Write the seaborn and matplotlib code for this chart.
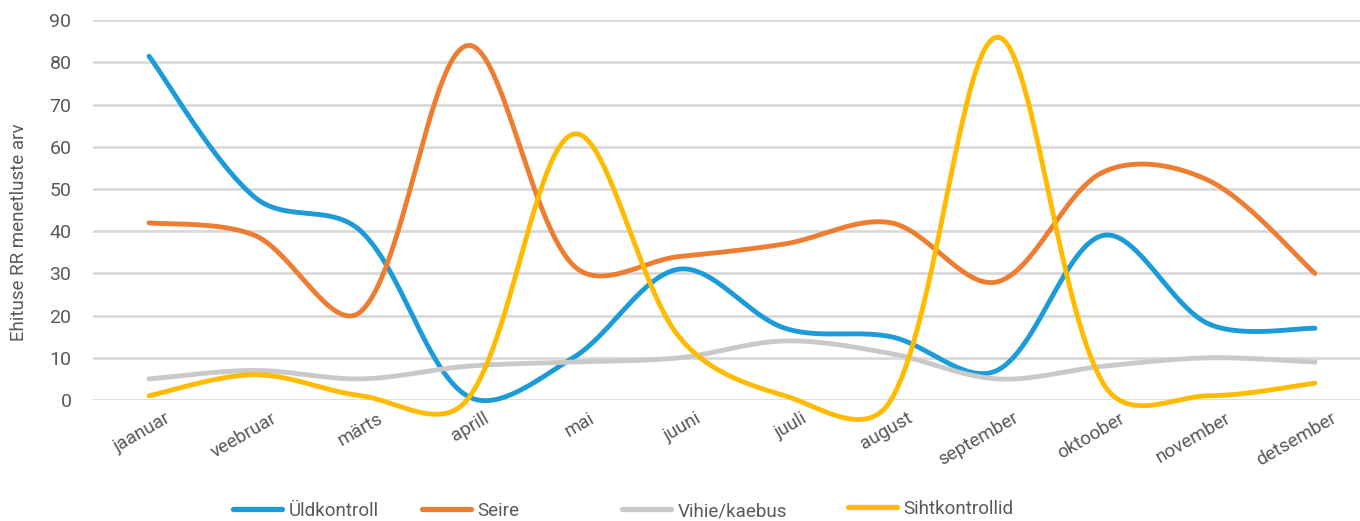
import numpy as np
import pandas as pd
import matplotlib
matplotlib.use("Agg")
import matplotlib.pyplot as plt
import matplotlib.transforms as mtransforms
from matplotlib.lines import Line2D
import seaborn as sns

# --- data -------------------------------------------------------------
months = ["jaanuar", "veebruar", "märts", "aprill", "mai", "juuni",
          "juuli", "august", "september", "oktoober", "november", "detsember"]

series_names = ["Üldkontroll", "Seire", "Vihie/kaebus", "Sihtkontrollid"]

uldkontroll = [81.5, 48, 40, 1, 10, 31, 17, 15, 7, 39, 18, 17]
seire = [42, 39, 21, 84, 32, 34, 37, 42, 28, 54, 52, 30]
vihje_kaebus = [5, 7, 5, 8, 9, 10, 14, 11, 5, 8, 10, 9]
sihtkontrollid = [1, 6, 1, 0, 63, 15, 1, 0, 86, 4, 1, 4]

y_ticks = [0, 10, 20, 30, 40, 50, 60, 70, 80, 90]
y_label = "Ehituse RR menetluste arv"

colors = ["#1b9bd7", "#ed7d31", "#c8c9c8", "#ffbb00"]

# screen scale of one category step and one y unit (used for chord lengths)
X_SCALE, Y_SCALE = 106.0, 4.22
CHORD_WEIGHT = 0.55  # mix between uniform and chord-sized handles


def smooth(values, steps=50):
    """Smoothed line through every point: cubic Bezier segments whose
    handles follow the neighbour direction, partly sized by chord length."""
    x = np.arange(len(values), dtype=float)
    y = np.asarray(values, dtype=float)
    pts = np.column_stack([x, y])
    n = len(pts)
    scr = pts * np.array([X_SCALE, Y_SCALE])
    d = np.linalg.norm(np.diff(scr, axis=0), axis=1)  # chord lengths
    out_h = np.zeros_like(pts)  # handle leaving point i
    in_h = np.zeros_like(pts)   # handle arriving at point i
    for i in range(n):
        if i == 0:
            out_h[i] = (pts[1] - pts[0]) / 6.0
        elif i == n - 1:
            in_h[i] = (pts[i] - pts[i - 1]) / 6.0
        else:
            tan = pts[i + 1] - pts[i - 1]
            tot = d[i - 1] + d[i]
            f_out = CHORD_WEIGHT * 2 * d[i] / tot + (1 - CHORD_WEIGHT)
            f_in = CHORD_WEIGHT * 2 * d[i - 1] / tot + (1 - CHORD_WEIGHT)
            out_h[i] = tan / 6.0 * f_out
            in_h[i] = tan / 6.0 * f_in
    t = np.linspace(0, 1, steps)[:, None]
    out = []
    for i in range(n - 1):
        p1, p2 = pts[i], pts[i + 1]
        b1 = p1 + out_h[i]
        b2 = p2 - in_h[i + 1]
        seg = ((1 - t) ** 3) * p1 + 3 * ((1 - t) ** 2) * t * b1 \
            + 3 * (1 - t) * t ** 2 * b2 + t ** 3 * p2
        out.append(seg if i == 0 else seg[1:])
    curve = np.vstack(out)
    return curve[:, 0], curve[:, 1]


frames = []
for name, vals in zip(series_names, [uldkontroll, seire, vihje_kaebus, sihtkontrollid]):
    sx, sy = smooth(vals)
    frames.append(pd.DataFrame({"x": sx, "y": sy, "series": name}))
df = pd.concat(frames, ignore_index=True)

# --- figure -----------------------------------------------------------
sns.set_theme(style="white")
plt.rcParams["font.family"] = ["Roboto", "DejaVu Sans"]

W, H = 1360, 521
fig = plt.figure(figsize=(W / 100, H / 100), dpi=100)
ax_left, ax_right = 93, 1360
ax_top, ax_bottom = 20.3, 400
ax = fig.add_axes([ax_left / W, (H - ax_bottom) / H,
                   (ax_right - ax_left) / W, (ax_bottom - ax_top) / H])

text_color = "#595959"
grid_color = "#d9d9d9"

sns.lineplot(data=df, x="x", y="y", hue="series", hue_order=series_names,
             palette=colors, sort=False, estimator=None, units="series",
             linewidth=3.5, legend=False, ax=ax)
for ln in ax.get_lines():
    ln.set_clip_on(False)
    ln.set_solid_capstyle("round")

# axis ranges: first category 56 px in from the left edge, 106 px spacing
ax.set_xlim(-(149 - ax_left) / X_SCALE, (ax_right - 149) / X_SCALE)
ax.set_ylim(0, 90)

ax.set_yticks(y_ticks)
ax.set_yticklabels([str(v) for v in y_ticks])
ax.grid(axis="y", color=grid_color, linewidth=2)
ax.set_axisbelow(True)
for s in ax.spines.values():
    s.set_visible(False)
ax.tick_params(axis="y", length=0, pad=15.5, labelsize=14, labelcolor=text_color)
ax.tick_params(axis="x", length=0, pad=6.5, labelsize=13.5, labelcolor=text_color)

ax.set_xticks(range(len(months)))
ax.set_xticklabels(months, rotation=30, ha="right", va="top",
                   rotation_mode="anchor")
shift = mtransforms.ScaledTranslation(16 / 100, 0, fig.dpi_scale_trans)
for lab in ax.get_xticklabels():
    lab.set_transform(lab.get_transform() + shift)

ax.set_xlabel("")
ax.set_ylabel("")
fig.text(19 / W, (H - 232) / H, y_label, rotation=90, ha="center", va="center",
         fontsize=13.5, color=text_color)

# legend entries placed along the bottom
legend_x = [233, 422, 622, 848]
legend_y = [511, 511, 511, 509]
for name, col, lx, ly in zip(series_names, colors, legend_x, legend_y):
    handle = Line2D([], [], color=col, linewidth=3.8, solid_capstyle="round")
    fig.legend(handles=[handle], labels=[name], loc="center left",
               bbox_to_anchor=(lx / W, (H - ly) / H), frameon=False,
               borderpad=0, borderaxespad=0, handlelength=2.6,
               handletextpad=0.35, fontsize=13.5, labelcolor=text_color)

fig.savefig("out.png", dpi=100, facecolor="white")
